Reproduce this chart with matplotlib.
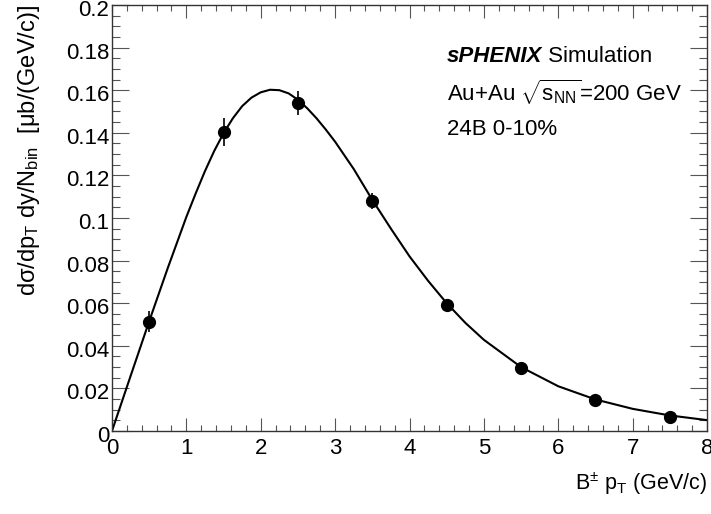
import numpy as np
import matplotlib
matplotlib.use("Agg")
import matplotlib.pyplot as plt
import matplotlib.transforms as mtrans
from matplotlib.ticker import FixedLocator, FixedFormatter, MultipleLocator

plt.rcParams['font.family'] = ['Liberation Sans', 'DejaVu Sans']
plt.rcParams['mathtext.fontset'] = 'custom'
plt.rcParams['mathtext.rm'] = 'Liberation Sans'
plt.rcParams['mathtext.it'] = 'Liberation Sans:italic'
plt.rcParams['mathtext.bf'] = 'Liberation Sans:bold'

# B+- pT spectrum points (bin centres)
pt = [0.5, 1.5, 2.5, 3.5, 4.5, 5.5, 6.5, 7.5]
yield_val = [0.0513, 0.1402, 0.1540, 0.1078, 0.0590, 0.0295, 0.0147, 0.0068]
yield_err = [0.0050, 0.0066, 0.0055, 0.0037, 0.0020, 0.0012, 0.0008, 0.0005]

# fit curve
fit_x = [0.0, 0.25, 0.5, 0.75, 1.0, 1.125, 1.25, 1.375, 1.5, 1.625, 1.75,
         1.875, 2.0, 2.125, 2.25, 2.375, 2.5, 2.625, 2.75, 2.875, 3.0, 3.25,
         3.5, 3.75, 4.0, 4.25, 4.5, 4.75, 5.0, 5.5, 6.0, 6.5, 7.0, 7.5, 8.0]
fit_y = [0.0, 0.0258, 0.0515, 0.0765, 0.1005, 0.1115, 0.1220, 0.1315, 0.1398,
         0.1468, 0.1525, 0.1565, 0.1590, 0.1602, 0.1600, 0.1585, 0.1555,
         0.1515, 0.1468, 0.1415, 0.1358, 0.1230, 0.1085, 0.0950, 0.0820,
         0.0705, 0.0600, 0.0508, 0.0428, 0.0300, 0.0210, 0.0148, 0.0104,
         0.0073, 0.0051]

y_ticks = [0, 0.02, 0.04, 0.06, 0.08, 0.1, 0.12, 0.14, 0.16, 0.18, 0.2]
y_tick_labels = ['0', '0.02', '0.04', '0.06', '0.08', '0.1', '0.12', '0.14',
                 '0.16', '0.18', '0.2']
x_ticks = [0, 1, 2, 3, 4, 5, 6, 7, 8]
x_tick_labels = ['0', '1', '2', '3', '4', '5', '6', '7', '8']

fig = plt.figure(figsize=(7.11, 5.14), dpi=100)
ax = fig.add_axes([0.1575, 0.1615, 0.8369, 0.8288])

ax.plot(fit_x, fit_y, color='black', lw=1.5, zorder=2)
ax.errorbar(pt, yield_val, yerr=yield_err, fmt='o', color='black',
            markersize=8.5, elinewidth=1.2, capsize=0, zorder=3)

ax.set_xlim(0, 8)
ax.set_ylim(0, 0.2)
ax.xaxis.set_major_locator(FixedLocator(x_ticks))
ax.xaxis.set_major_formatter(FixedFormatter(x_tick_labels))
ax.xaxis.set_minor_locator(MultipleLocator(0.2))
ax.yaxis.set_major_locator(FixedLocator(y_ticks))
ax.yaxis.set_major_formatter(FixedFormatter(y_tick_labels))
ax.yaxis.set_minor_locator(MultipleLocator(0.005))

ax.tick_params(axis='both', which='both', direction='in', top=True, right=True,
               color='#555555', width=0.8, labelsize=16, labelcolor='black')
ax.tick_params(axis='x', which='major', length=9.2, pad=5)
ax.tick_params(axis='x', which='minor', length=4.6)
ax.tick_params(axis='y', which='major', length=12, pad=2)
ax.tick_params(axis='y', which='minor', length=6)
for sp in ax.spines.values():
    sp.set_linewidth(1.0)
    sp.set_color('#333333')

# ROOT puts the y labels a touch below their ticks
shift = mtrans.ScaledTranslation(0, -0.03, fig.dpi_scale_trans)
for lab in ax.get_yticklabels():
    lab.set_transform(lab.get_transform() + shift)

ax.set_xlabel(r'B$^{\pm}$ p$_{\rm T}$ (GeV/c)', fontsize=15.5, loc='right')
ax.xaxis.set_label_coords(1.0, -0.092)
ax.set_ylabel(r'dσ/dp$_{\rm T}$ dy/N$_{\rm bin}$  [μb/(GeV/c)]',
              fontsize=17, loc='top')
ax.yaxis.set_label_coords(-0.118, 1.0)

t1 = ax.text(0.563, 0.879, 'sPHENIX', transform=ax.transAxes, fontsize=16,
             fontweight='bold', fontstyle='italic', va='center', ha='left')
ax.annotate(' Simulation', xy=(1, 0.5), xycoords=t1, fontsize=16,
            va='center', ha='left')
ax.text(0.563, 0.794, r'Au+Au $\sqrt{\mathrm{s}_{\rm NN}}$=200 GeV',
        transform=ax.transAxes, fontsize=16, va='center', ha='left')
ax.text(0.563, 0.707, '24B 0-10%', transform=ax.transAxes, fontsize=16,
        va='center', ha='left')

fig.savefig('out.png', dpi=100)
